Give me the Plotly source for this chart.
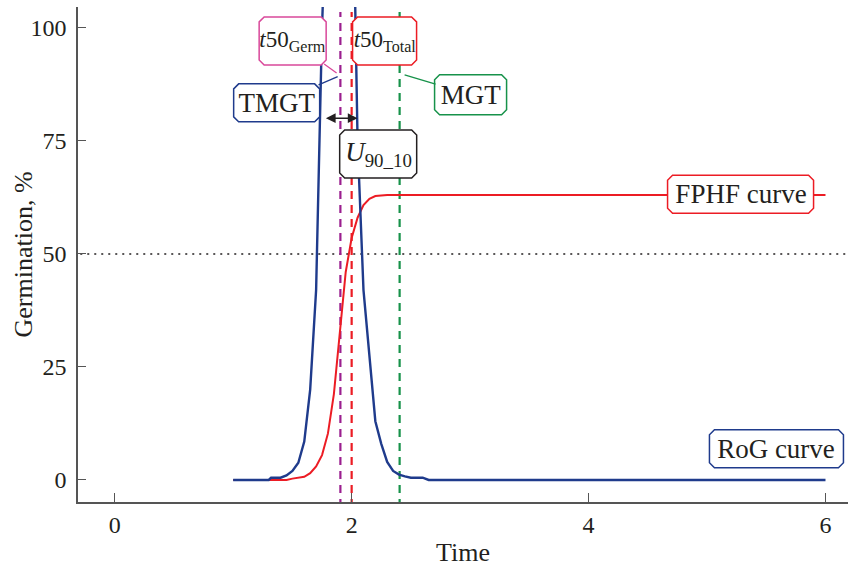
import plotly.graph_objects as go

# ---- data ----
TIME_ROG = [1.0, 1.3, 1.32, 1.4, 1.45, 1.5, 1.55, 1.6, 1.65, 1.7, 1.75, 1.8, 1.85, 1.9, 1.95,
            2.0, 2.05, 2.1, 2.15, 2.2, 2.25, 2.3, 2.35, 2.4, 2.45, 2.5, 2.6, 2.65, 6.0]
ROG = [0, 0, 0.5, 0.5, 1, 2, 3.8, 8.5, 20, 42, 100, 150, 180, 185, 175,
       150, 75, 42, 27, 13, 8, 4, 2, 1.2, 0.8, 0.5, 0.5, 0, 0]

TIME_FPHF = [1.0, 1.45, 1.5, 1.55, 1.6, 1.65, 1.7, 1.75, 1.8, 1.85, 1.9, 1.95, 2.0,
             2.05, 2.1, 2.15, 2.2, 2.3, 6.0]
FPHF = [0, 0, 0.3, 0.5, 0.7, 1.5, 3, 5.5, 10.3, 19, 32, 46, 53.5,
        58, 60.8, 62.2, 62.8, 63, 63]

T50_GERM = 1.905
T50_TOTAL = 2.0
MGT = 2.405
TMGT = 1.77
U90_END = 2.05
U90_LEVEL = 80
HALF_LEVEL = 50
VLINE_SPAN = [-6, 103.5]

X_TICKS = [0, 2, 4, 6]
Y_TICKS = [0, 25, 50, 75, 100]

BLUE = "#1f3b8c"
RED = "#ec1c24"
PURPLE = "#9b1f8f"
PINK = "#d9489a"
GREEN = "#17924a"
DARK = "#231f20"
FONT = "Liberation Serif"

fig = go.Figure()

# 50% dotted reference line
fig.add_trace(go.Scatter(x=[-1, 7], y=[HALF_LEVEL, HALF_LEVEL], mode="lines",
                         line=dict(color=DARK, width=1.5, dash="2px,5px"),
                         hoverinfo="skip", showlegend=False))

# vertical dashed markers
for xv, col in [(T50_GERM, PURPLE), (T50_TOTAL, RED), (MGT, GREEN)]:
    fig.add_trace(go.Scatter(x=[xv, xv], y=VLINE_SPAN, mode="lines",
                             line=dict(color=col, width=2.2, dash="8px,6px"),
                             hoverinfo="skip", showlegend=False))

fig.add_trace(go.Scatter(x=TIME_FPHF, y=FPHF, mode="lines",
                         line=dict(color=RED, width=2), showlegend=False))
fig.add_trace(go.Scatter(x=TIME_ROG, y=ROG, mode="lines",
                         line=dict(color=BLUE, width=2.4), showlegend=False))


def octagon(w, h, c=5):
    a, b = w / 2, h / 2
    pts = [(-a + c, -b), (a - c, -b), (a, -b + c), (a, b - c), (a - c, b),
           (-a + c, b), (-a, b - c), (-a, -b + c)]
    return "M " + " L ".join(f"{x:.1f},{y:.1f}" for x, y in pts) + " Z"


def box(text, x, y, w, h, col, size=27, tip=None):
    # chamfered frame, white fill (covers the curves underneath)
    fig.add_shape(type="path", xref="x", yref="y", xsizemode="pixel", ysizemode="pixel",
                  xanchor=x, yanchor=y, path=octagon(w, h), fillcolor="white",
                  line=dict(color=col, width=1.5), layer="above")
    d = dict(text=text, width=w - 2, height=h - 2, borderwidth=0, borderpad=0,
             bgcolor="rgba(0,0,0,0)", font=dict(family=FONT, size=size, color=DARK),
             align="center", valign="middle")
    if tip is None:
        d.update(x=x, y=y, xref="x", yref="y", showarrow=False)
    else:
        d.update(x=tip[0], y=tip[1], xref="x", yref="y", ax=x, ay=y, axref="x", ayref="y",
                 showarrow=True, arrowhead=0, arrowwidth=1.3, arrowcolor=col, standoff=0)
    fig.add_annotation(**d)


box("<i>t</i>50<sub>Germ</sub>", 1.502, 97.1, 67, 48, PINK, size=23, tip=(1.873, 90.0))
box("<i>t</i>50<sub>Total</sub>", 2.278, 97.1, 64, 48, RED, size=23)
box("TMGT", 1.367, 83.4, 86, 38, BLUE, tip=(1.882, 89.2))
box("MGT", 3.004, 85.2, 72, 40, GREEN, tip=(2.447, 89.6))
box("<i>U</i><sub>90_10</sub>", 2.224, 72.1, 77, 48, DARK)
box("FPHF curve", 5.283, 63.2, 146, 38, RED)
box("RoG curve", 5.586, 6.9, 134, 38, BLUE)

# U90_10 double arrow
fig.add_annotation(x=U90_END, y=U90_LEVEL, ax=TMGT, ay=U90_LEVEL, xref="x", yref="y",
                   axref="x", ayref="y", text="", showarrow=True, arrowside="end+start",
                   arrowhead=2, arrowsize=1.3, arrowwidth=1.5, arrowcolor=DARK)

# y-axis title
fig.add_annotation(text="Germination, %", x=0, y=0.5, xref="paper", yref="paper",
                   xshift=-55, textangle=-90, showarrow=False, xanchor="center",
                   yanchor="middle", font=dict(family=FONT, size=26, color=DARK))

axis_common = dict(showgrid=False, zeroline=False, showline=True, linecolor="#555555",
                   linewidth=1.5, ticks="inside", tickcolor="#555555", tickwidth=1.3,
                   tickfont=dict(family=FONT, size=24, color=DARK))

fig.update_layout(
    width=851, height=568,
    margin=dict(l=78, r=3, t=7, b=66),
    plot_bgcolor="white", paper_bgcolor="white",
    xaxis=dict(range=[-0.31, 6.19], tickvals=X_TICKS, ticklen=9,
               title=dict(text="Time", font=dict(family=FONT, size=26, color=DARK), standoff=6),
               **axis_common),
    yaxis=dict(range=[-4.87, 104.6], tickvals=Y_TICKS, ticklen=8, ticklabelstandoff=5,
               **axis_common),
)

fig.write_html("out.html")
